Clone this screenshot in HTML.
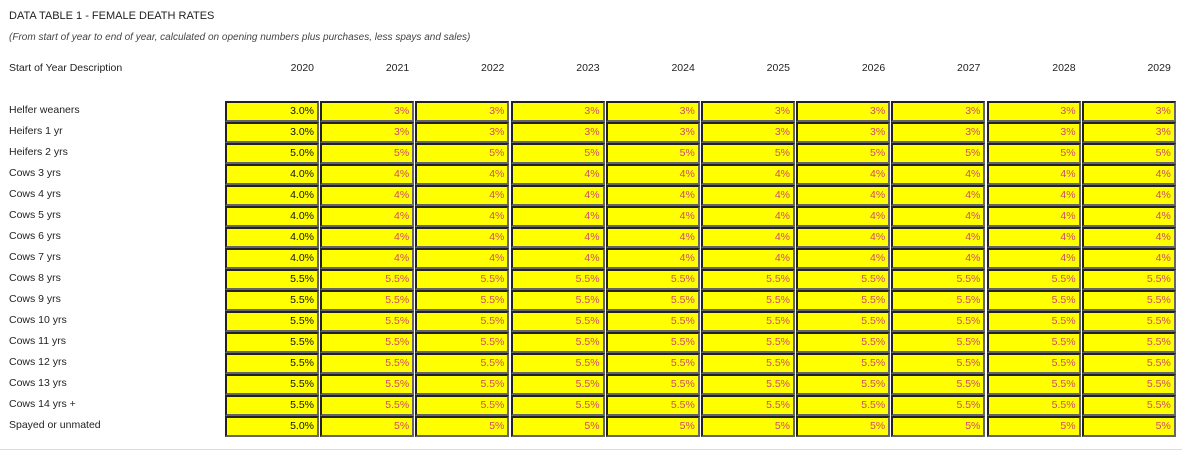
<!DOCTYPE html>
<html><head><meta charset="utf-8"><style>
body{margin:0;width:1182px;height:453px;background:#fff;font-family:"Liberation Sans",sans-serif;position:relative;overflow:hidden;color:#222}
.a{position:absolute;white-space:nowrap}
.t{font-size:11px;left:9px;top:10px}
.s{font-size:10px;font-style:italic;left:9px;top:32px;color:#444}
.h{font-size:10.5px;top:62px}
.l{font-size:10.5px;left:9px}
.c{position:absolute;box-sizing:border-box;background:#ff0;border-top:2px solid #222;border-left:2px solid #222;border-bottom:2px solid #666;border-right:2px solid #666;font-size:10.5px;text-align:right;padding-right:3px;line-height:17px;color:#d04a6a}
.c.f{color:#111}
</style></head><body>
<div class="a t">DATA TABLE 1 - FEMALE DEATH RATES</div>
<div class="a s">(From start of year to end of year, calculated on opening numbers plus purchases, less spays and sales)</div>
<div class="a h" style="left:9px">Start of Year Description</div>
<div id="grid"></div>
<div class="a" style="left:0;top:449px;width:1182px;height:1px;background:#ddd"></div>
<script>
const years=[2020,2021,2022,2023,2024,2025,2026,2027,2028,2029];
const labels=["Helfer weaners","Heifers 1 yr","Heifers 2 yrs","Cows 3 yrs","Cows 4 yrs","Cows 5 yrs","Cows 6 yrs","Cows 7 yrs","Cows 8 yrs","Cows 9 yrs","Cows 10 yrs","Cows 11 yrs","Cows 12 yrs","Cows 13 yrs","Cows 14 yrs +","Spayed or unmated"];
const firstVals=["3.0%","3.0%","5.0%","4.0%","4.0%","4.0%","4.0%","4.0%","5.5%","5.5%","5.5%","5.5%","5.5%","5.5%","5.5%","5.0%"];
const laterVals=["3%","3%","5%","4%","4%","4%","4%","4%","5.5%","5.5%","5.5%","5.5%","5.5%","5.5%","5.5%","5%"];
const g=document.getElementById('grid');
const colX=j=>225+95.2*j, rowY=i=>101+21*i;
years.forEach((y,j)=>{
  const d=document.createElement('div');
  
  
  d.className='a h';d.style.left=(colX(j))+'px';d.style.width='89px';d.style.textAlign='right';d.textContent=y;g.appendChild(d);
});
labels.forEach((lb,i)=>{
  const d=document.createElement('div');
  
  
  d.className='a l';d.style.top=(rowY(i)+3)+'px';d.textContent=lb;g.appendChild(d);
  years.forEach((y,j)=>{
    const c=document.createElement('div');
    
    
    c.className='c'+(j==0?' f':'');
    c.style.left=colX(j)+'px';c.style.top=rowY(i)+'px';c.style.width='94px';c.style.height='21px';
    c.textContent=j==0?firstVals[i]:laterVals[i];g.appendChild(c);
  });
});
</script>
</body></html>
